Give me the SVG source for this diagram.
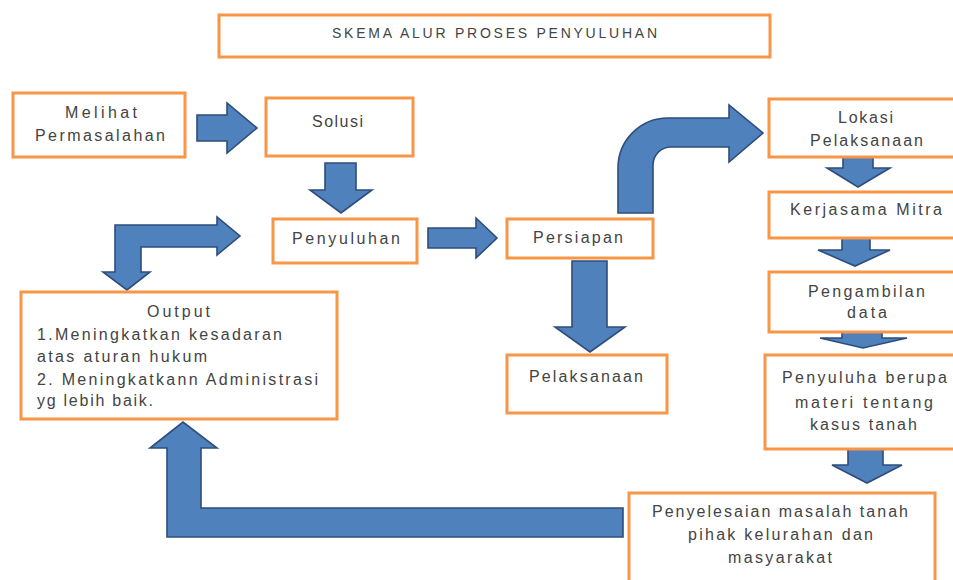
<svg xmlns="http://www.w3.org/2000/svg" width="953" height="580" viewBox="0 0 953 580">
<style>
.box{fill:#fff;stroke:#F79646;stroke-width:3}
.arr{fill:#4F81BD;stroke:#2E4D7B;stroke-width:1.6;stroke-linejoin:miter}
text{font-family:"Liberation Sans",Arial,sans-serif;font-size:16px;fill:#444}
.t{font-size:14px}
</style>
<rect width="953" height="580" fill="#fff"/>
<g id="connectors">
<path class="arr" d="M197,115 L227,115 L227,103 L257,128 L227,153 L227,141 L197,141 Z"/>
<path class="arr" d="M325,163 L356,163 L356,190 L372,190 L341,213 L310,190 L325,190 Z"/>
<path class="arr" d="M428,228 L476,228 L476,218 L497,238 L476,258 L476,248 L428,248 Z"/>
<path class="arr" d="M572,261 L607,261 L607,327 L625,327 L590,352 L555,327 L572,327 Z"/>
<path class="arr" d="M618,213 L618,168 A50,50 0 0 1 668,118 L729,118 L729,105 L763,133 L729,162 L729,147 L671,147 A18,18 0 0 0 653,165 L653,213 Z"/>
<path class="arr" d="M843,152 L873,152 L873,168 L890,168 L858,187 L827,168 L843,168 Z"/>
<path class="arr" d="M842,237 L870,237 L870,250 L890,250 L855,266 L818,250 L842,250 Z"/>
<path class="arr" d="M842,331 L882,331 L882,338 L907,338 L863,348 L820,338 L842,338 Z"/>
<path class="arr" d="M848,449 L883,449 L883,465 L902,465 L867,483 L832,465 L848,465 Z"/>
<path class="arr" d="M623,508 L623,537 L167,537 L167,448 L150,448 L183,422 L217,448 L201,448 L201,508 Z"/>
<path class="arr" d="M115,225 L217,225 L217,217 L240,236 L217,255 L217,247 L141,247 L141,272 L150,272 L127,290 L103,272 L115,272 Z"/>
</g>
<g id="title"><rect class="box" x="219" y="15" width="551" height="42"/><text class="t" x="332" y="38" textLength="325" lengthAdjust="spacing">SKEMA ALUR PROSES PENYULUHAN</text></g>
<g id="melihat"><rect class="box" x="13" y="93" width="172" height="64"/><text x="65" y="118" textLength="72" lengthAdjust="spacing">Melihat</text><text x="35" y="141" textLength="130" lengthAdjust="spacing">Permasalahan</text></g>
<g id="solusi"><rect class="box" x="266" y="98" width="147" height="58"/><text x="312" y="127" textLength="51" lengthAdjust="spacing">Solusi</text></g>
<g id="penyuluhan"><rect class="box" x="273" y="219" width="144" height="44"/><text x="292" y="244" textLength="108" lengthAdjust="spacing">Penyuluhan</text></g>
<g id="persiapan"><rect class="box" x="507" y="219" width="146" height="39"/><text x="533" y="243" textLength="90" lengthAdjust="spacing">Persiapan</text></g>
<g id="pelaksanaan"><rect class="box" x="507" y="355" width="160" height="58"/><text x="529" y="382" textLength="114" lengthAdjust="spacing">Pelaksanaan</text></g>
<g id="lokasi"><rect class="box" x="769" y="99" width="190" height="58"/><text x="838" y="123" textLength="55" lengthAdjust="spacing">Lokasi</text><text x="810" y="146" textLength="113" lengthAdjust="spacing">Pelaksanaan</text></g>
<g id="kerjasama"><rect class="box" x="769" y="192" width="190" height="46"/><text x="790" y="215" textLength="152" lengthAdjust="spacing">Kerjasama Mitra</text></g>
<g id="pengambilan"><rect class="box" x="769" y="272" width="190" height="60"/><text x="808" y="297" textLength="117" lengthAdjust="spacing">Pengambilan</text><text x="847" y="318" textLength="40" lengthAdjust="spacing">data</text></g>
<g id="penyuluha"><rect class="box" x="765" y="355" width="194" height="94"/><text x="782" y="383" textLength="165" lengthAdjust="spacing">Penyuluha berupa</text><text x="795" y="408" textLength="138" lengthAdjust="spacing">materi tentang</text><text x="810" y="430" textLength="107" lengthAdjust="spacing">kasus tanah</text></g>
<g id="penyelesaian"><rect class="box" x="629" y="493" width="306" height="92"/><text x="652" y="517" textLength="256" lengthAdjust="spacing">Penyelesaian masalah tanah</text><text x="688" y="540" textLength="185" lengthAdjust="spacing">pihak kelurahan dan</text><text x="728" y="563" textLength="104" lengthAdjust="spacing">masyarakat</text></g>
<g id="output"><rect class="box" x="21" y="292" width="316" height="127"/><text x="147" y="317" textLength="63" lengthAdjust="spacing">Output</text><text x="37" y="340" textLength="245" lengthAdjust="spacing">1.Meningkatkan kesadaran</text><text x="37" y="362" textLength="170" lengthAdjust="spacing">atas aturan hukum</text><text x="37" y="385" textLength="281" lengthAdjust="spacing">2. Meningkatkann Administrasi</text><text x="37" y="406" textLength="116" lengthAdjust="spacing">yg lebih baik.</text></g>
</svg>
